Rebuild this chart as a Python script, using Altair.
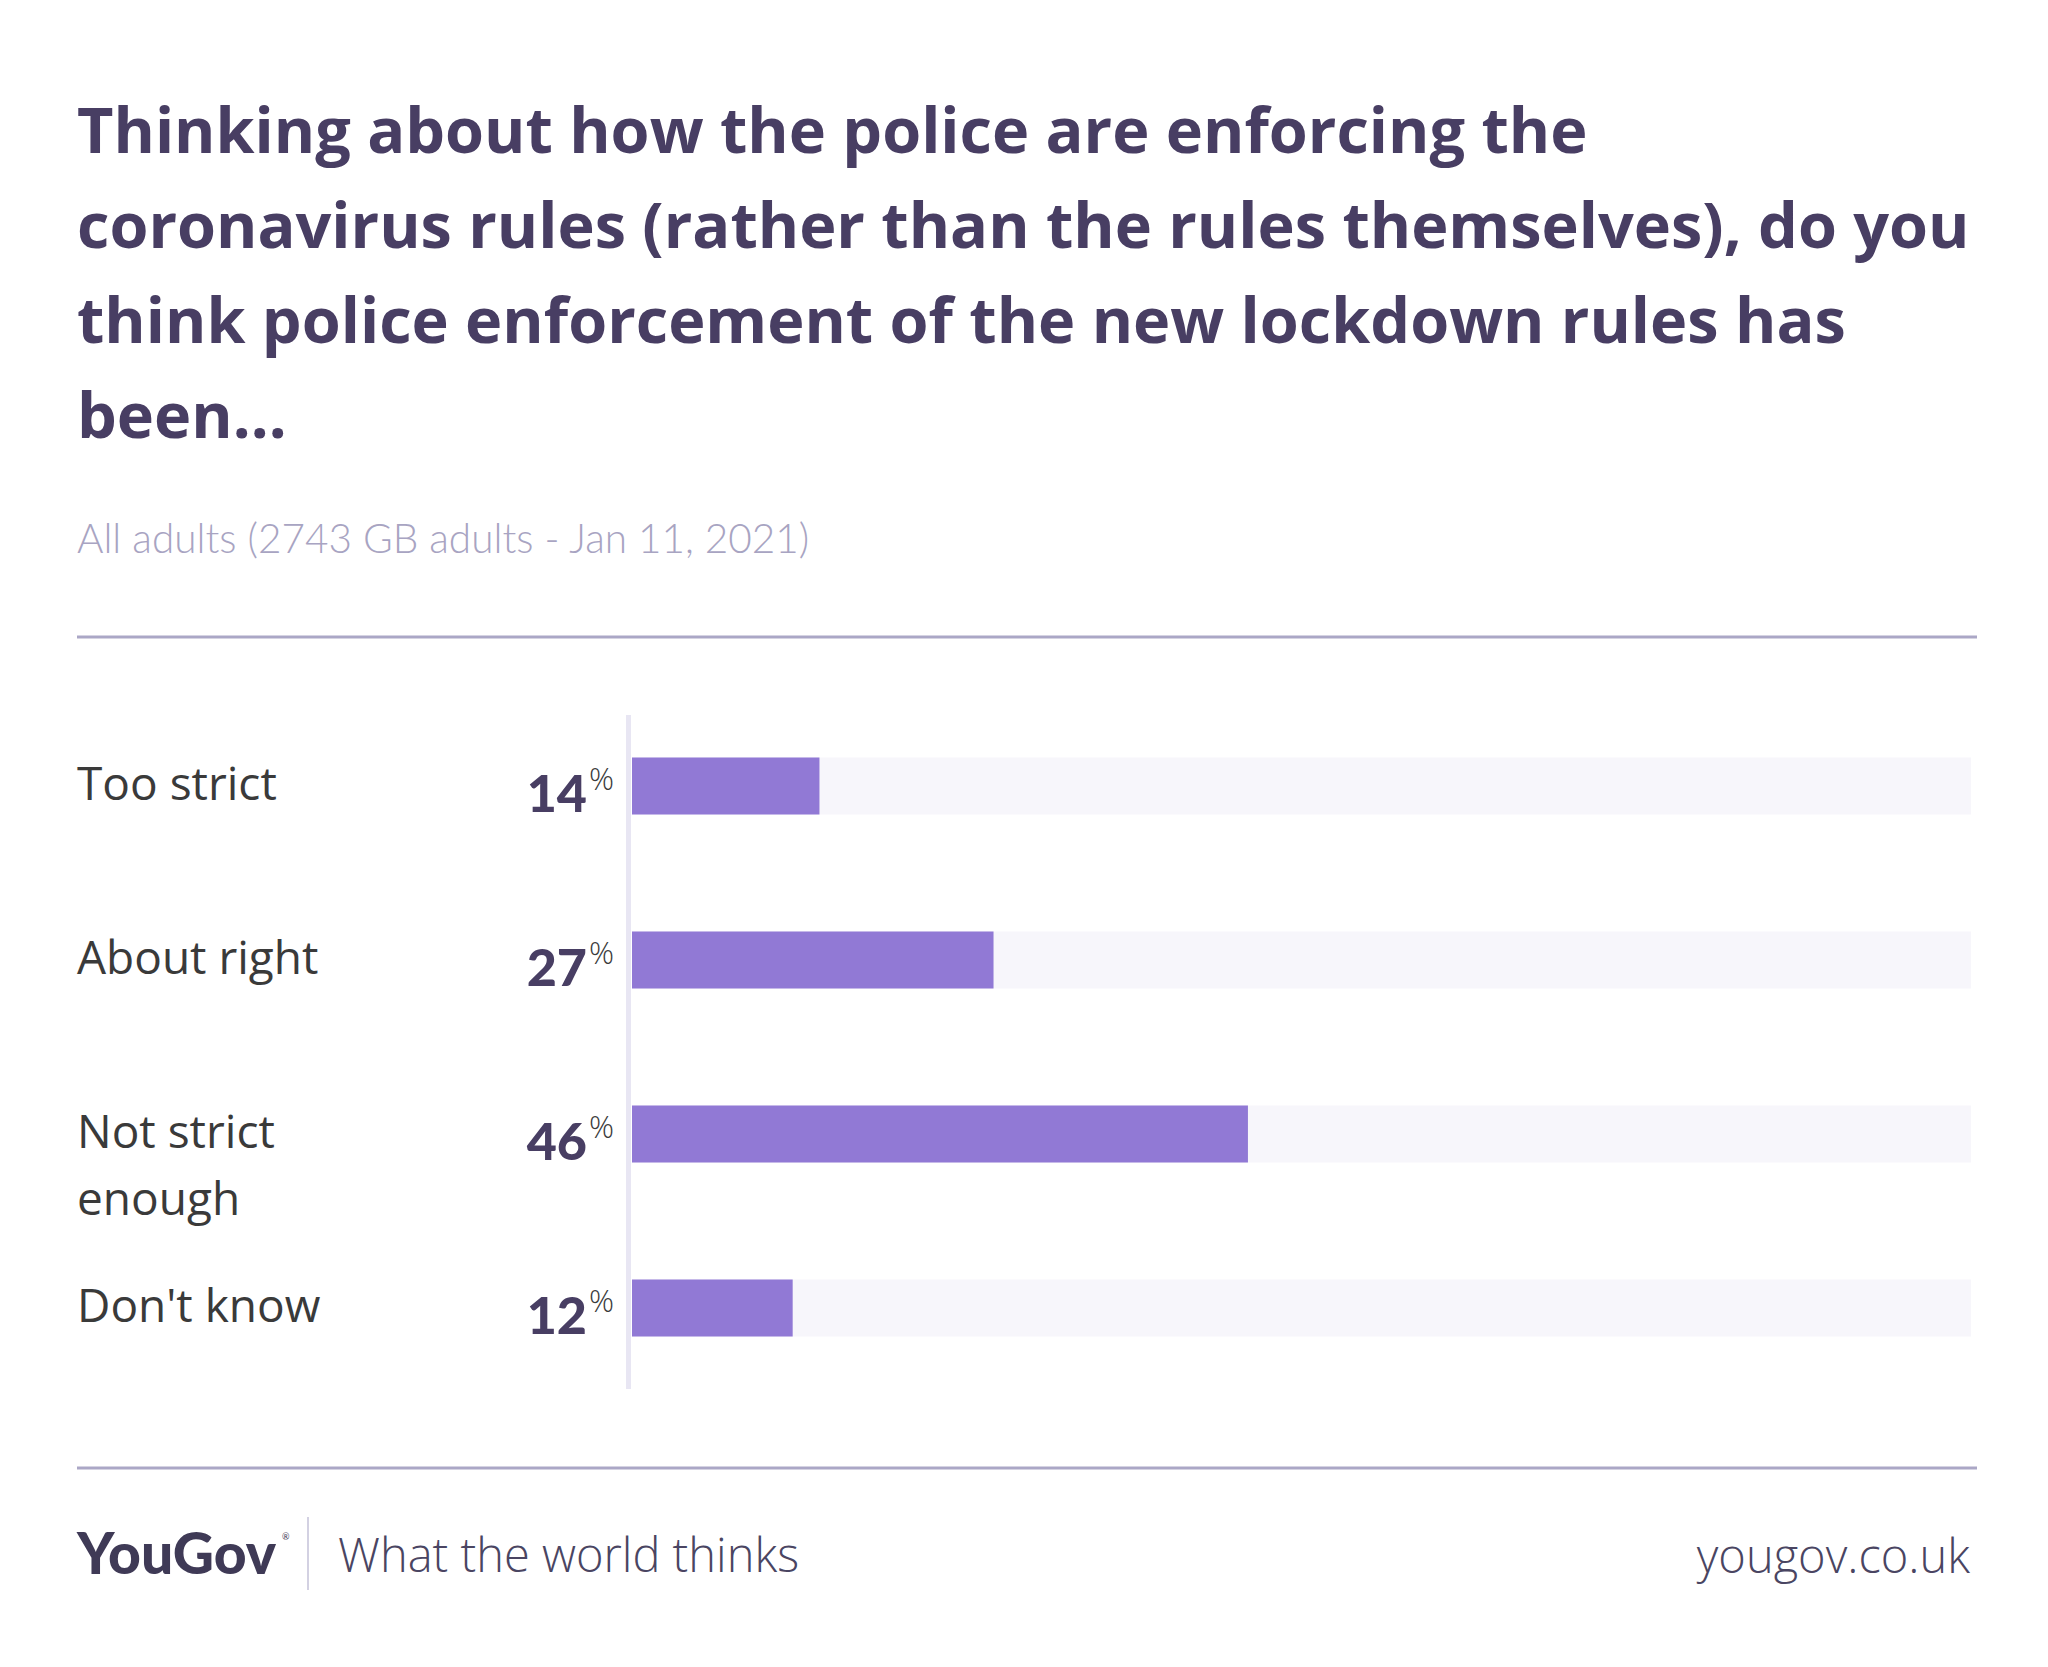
import altair as alt
import pandas as pd

# ---- data ----
title_lines = [
    "Thinking about how the police are enforcing the",
    "coronavirus rules (rather than the rules themselves), do you",
    "think police enforcement of the new lockdown rules has",
    "been...",
]
subtitle = "All adults (2743 GB adults - Jan 11, 2021)"
categories = ["Too strict", "About right", "Not strict enough", "Don't know"]
labels = ["Too strict", "About right", "Not strict\nenough", "Don't know"]
values = [14, 27, 46, 12]
footer_brand = "YouGov"
footer_tag = "What the world thinks"
footer_url = "yougov.co.uk"

df = pd.DataFrame({"category": categories, "label": labels, "value": values})
one = pd.DataFrame({"k": [0]})

DARK = "#483e63"
LABEL = "#3a3a3a"

x_scale = alt.Scale(domain=[0, 100], range=[624, 1963])
y_enc = alt.Y(
    "category:N",
    sort=categories,
    axis=None,
    scale=alt.Scale(domain=categories, range=[691, 1387], paddingInner=0.672, paddingOuter=0.336),
)

base = alt.Chart(df).transform_calculate(zero="0", full="100")

track = base.mark_bar(color="#f7f6fb").encode(
    y=y_enc,
    x=alt.X("zero:Q", scale=x_scale, axis=None),
    x2="full:Q",
)
bars = base.mark_bar(color="#9179d5").encode(
    y=y_enc,
    x=alt.X("value:Q", scale=x_scale, axis=None),
    x2="zero:Q",
)
nums = base.mark_text(
    align="right", baseline="alphabetic", dx=-45, dy=26,
    font="Lato", fontSize=52, fontWeight=900, color=DARK,
).encode(y=y_enc, x=alt.X("zero:Q", scale=x_scale, axis=None), text="value:Q")
pct = base.mark_text(
    align="left", baseline="alphabetic", dx=-43, dy=4,
    font="Open Sans", fontSize=31, fontWeight=300, color="#3b3b3b",
).encode(y=y_enc, x=alt.X("zero:Q", scale=x_scale, axis=None), text=alt.value("%"))
cat_labels = base.mark_text(
    align="left", baseline="middle", lineBreak="\n", lineHeight=67,
    font="Open Sans", fontSize=46, color=LABEL,
).encode(y=y_enc, x=alt.value(69), text="label:N")

axis_line = alt.Chart(one).mark_rule(color="#e8e6f3", strokeWidth=5).encode(
    x=alt.value(620.5), y=alt.value(707), y2=alt.value(1381)
)

title = alt.Chart(one).mark_text(
    align="left", baseline="alphabetic", lineBreak="\n", lineHeight=95,
    font="Open Sans", fontSize=63, fontWeight="bold", color=DARK,
).encode(x=alt.value(69), y=alt.value(145), text=alt.value("\n".join(title_lines)))

sub = alt.Chart(one).mark_text(
    align="left", baseline="alphabetic", font="Lato", fontSize=40.5, fontWeight=300, color="#a8a4c2",
).encode(x=alt.value(69), y=alt.value(545), text=alt.value(subtitle))

sep_top = alt.Chart(one).mark_rule(color="#aba7c6", strokeWidth=3).encode(
    x=alt.value(69), x2=alt.value(1969), y=alt.value(629)
)
sep_bot = alt.Chart(one).mark_rule(color="#aba7c6", strokeWidth=3).encode(
    x=alt.value(69), x2=alt.value(1969), y=alt.value(1460)
)

brand = alt.Chart(one).mark_text(
    align="left", baseline="alphabetic", font="Lato", fontSize=57, fontWeight=900,
    color="#3f3a56",
).encode(x=alt.value(69), y=alt.value(1566), text=alt.value(footer_brand))
reg = alt.Chart(one).mark_text(
    align="left", baseline="alphabetic", font="Lato", fontSize=9, color="#3f3a56",
).encode(x=alt.value(274), y=alt.value(1532), text=alt.value("®"))
divider = alt.Chart(one).mark_rule(color="#d3d1e2", strokeWidth=2).encode(
    x=alt.value(300), y=alt.value(1509), y2=alt.value(1582)
)
tag = alt.Chart(one).mark_text(
    align="left", baseline="alphabetic", font="Open Sans", fontSize=47, fontWeight=300, color="#4a4562",
).encode(x=alt.value(330), y=alt.value(1564), text=alt.value(footer_tag))
url = alt.Chart(one).mark_text(
    align="right", baseline="alphabetic", font="Open Sans", fontSize=47, fontWeight=300, color="#4a4562",
).encode(x=alt.value(1962), y=alt.value(1565), text=alt.value(footer_url))

chart = alt.layer(
    track, bars, axis_line, nums, pct, cat_labels,
    title, sub, sep_top, sep_bot, brand, reg, divider, tag, url,
).properties(
    width=2032, height=1651, padding=0, autosize=alt.AutoSizeParams(type="none"),
    background="white",
).configure_view(stroke=None)

chart.save("out.html", embed_options={"renderer": "svg", "actions": False})
